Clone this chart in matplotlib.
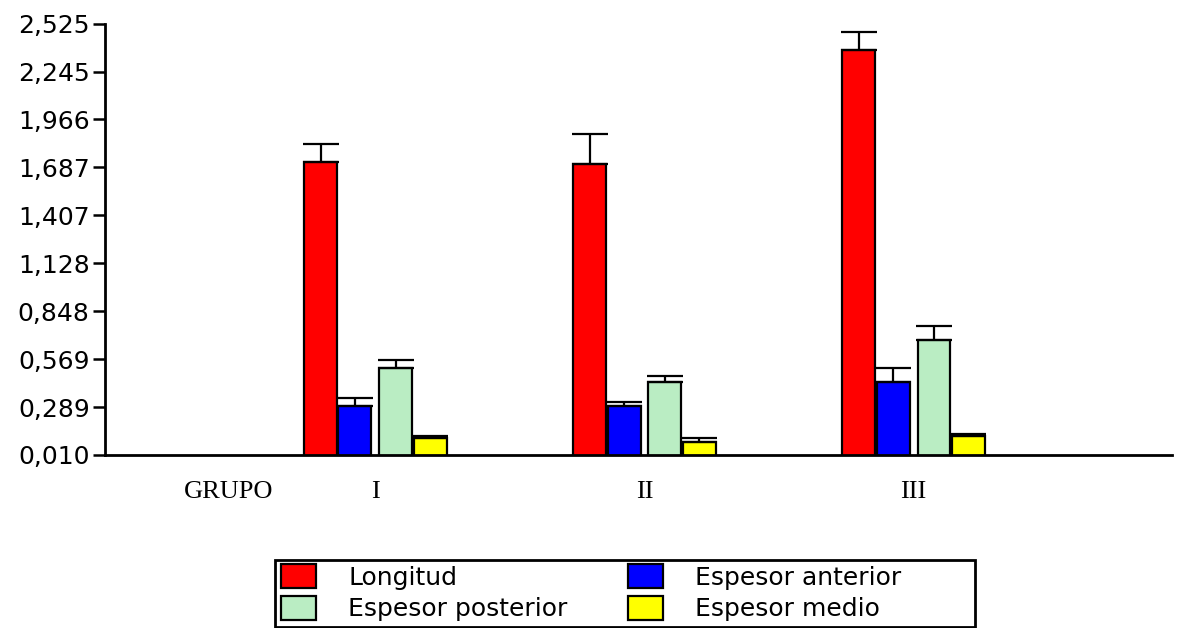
import numpy as np
import matplotlib.pyplot as plt
from matplotlib.patches import Patch, Rectangle

# data
grupos = ['I', 'II', 'III']
series = ['Longitud', 'Espesor anterior', 'Espesor posterior', 'Espesor medio']
longitud = [1.718, 1.706, 2.369]
longitud_err = [0.105, 0.175, 0.105]
esp_anterior = [0.296, 0.296, 0.434]
esp_anterior_err = [0.048, 0.023, 0.082]
esp_posterior = [0.518, 0.434, 0.679]
esp_posterior_err = [0.046, 0.037, 0.084]
esp_medio = [0.111, 0.086, 0.121]
esp_medio_err = [0.012, 0.023, 0.012]
yticks = [0.010, 0.289, 0.569, 0.848, 1.128, 1.407, 1.687, 1.966, 2.245, 2.525]

colors = ['#ff0000', '#0000ff', '#baedc3', '#ffff00']
values = [longitud, esp_anterior, esp_posterior, esp_medio]
errors = [longitud_err, esp_anterior_err, esp_posterior_err, esp_medio_err]
offsets = [-0.204, -0.076, 0.076, 0.204]
width = 0.1225

fig = plt.figure(figsize=(11.88, 6.28), dpi=100)
ax = fig.add_axes([0.0884, 0.2755, 0.898, 0.687])

x = np.arange(1, len(grupos) + 1)
for vals, errs, off, c in zip(values, errors, offsets, colors):
    ax.bar(x + off, vals, width, color=c, edgecolor='black', linewidth=1.6,
           yerr=[np.zeros(len(errs)), errs], capsize=13,
           error_kw=dict(ecolor='black', elinewidth=1.6, capthick=1.6),
           zorder=2)

ax.set_xlim(-0.005, 3.96)
ax.set_ylim(0.010, 2.525)
ax.set_yticks(yticks)
ax.set_yticklabels(['{:.3f}'.format(v).replace('.', ',') for v in yticks],
                   fontsize=18, family='DejaVu Sans')
ax.tick_params(axis='y', length=9, width=1.8, pad=2)

ax.set_xticks([0.455] + list(x))
ax.set_xticklabels(['GRUPO'] + grupos, family='Liberation Serif', fontsize=19)
ax.tick_params(axis='x', length=0, pad=19)

for s in ['top', 'right']:
    ax.spines[s].set_visible(False)
for s in ['left', 'bottom']:
    ax.spines[s].set_linewidth(2)

# legend, 2 columns filled row by row
handles = [Patch(facecolor=c, edgecolor='black', linewidth=1.6) for c in colors]
order = [0, 2, 1, 3]
leg = fig.legend([handles[i] for i in order], [series[i] for i in order],
                 loc='upper left', bbox_to_anchor=(281 / 1188, 1 - 564 / 628),
                 ncol=2, prop={'family': 'DejaVu Sans', 'size': 18},
                 frameon=False, borderpad=0, borderaxespad=0,
                 handlelength=1.4, handleheight=1.1, handletextpad=1.3,
                 labelspacing=0.25, columnspacing=2.4)
fig.patches.append(Rectangle((275 / 1188, 1 - 627 / 628), 700 / 1188, 67 / 628,
                             transform=fig.transFigure, fill=False,
                             edgecolor='black', linewidth=2))

plt.savefig('out.png', dpi=100)
